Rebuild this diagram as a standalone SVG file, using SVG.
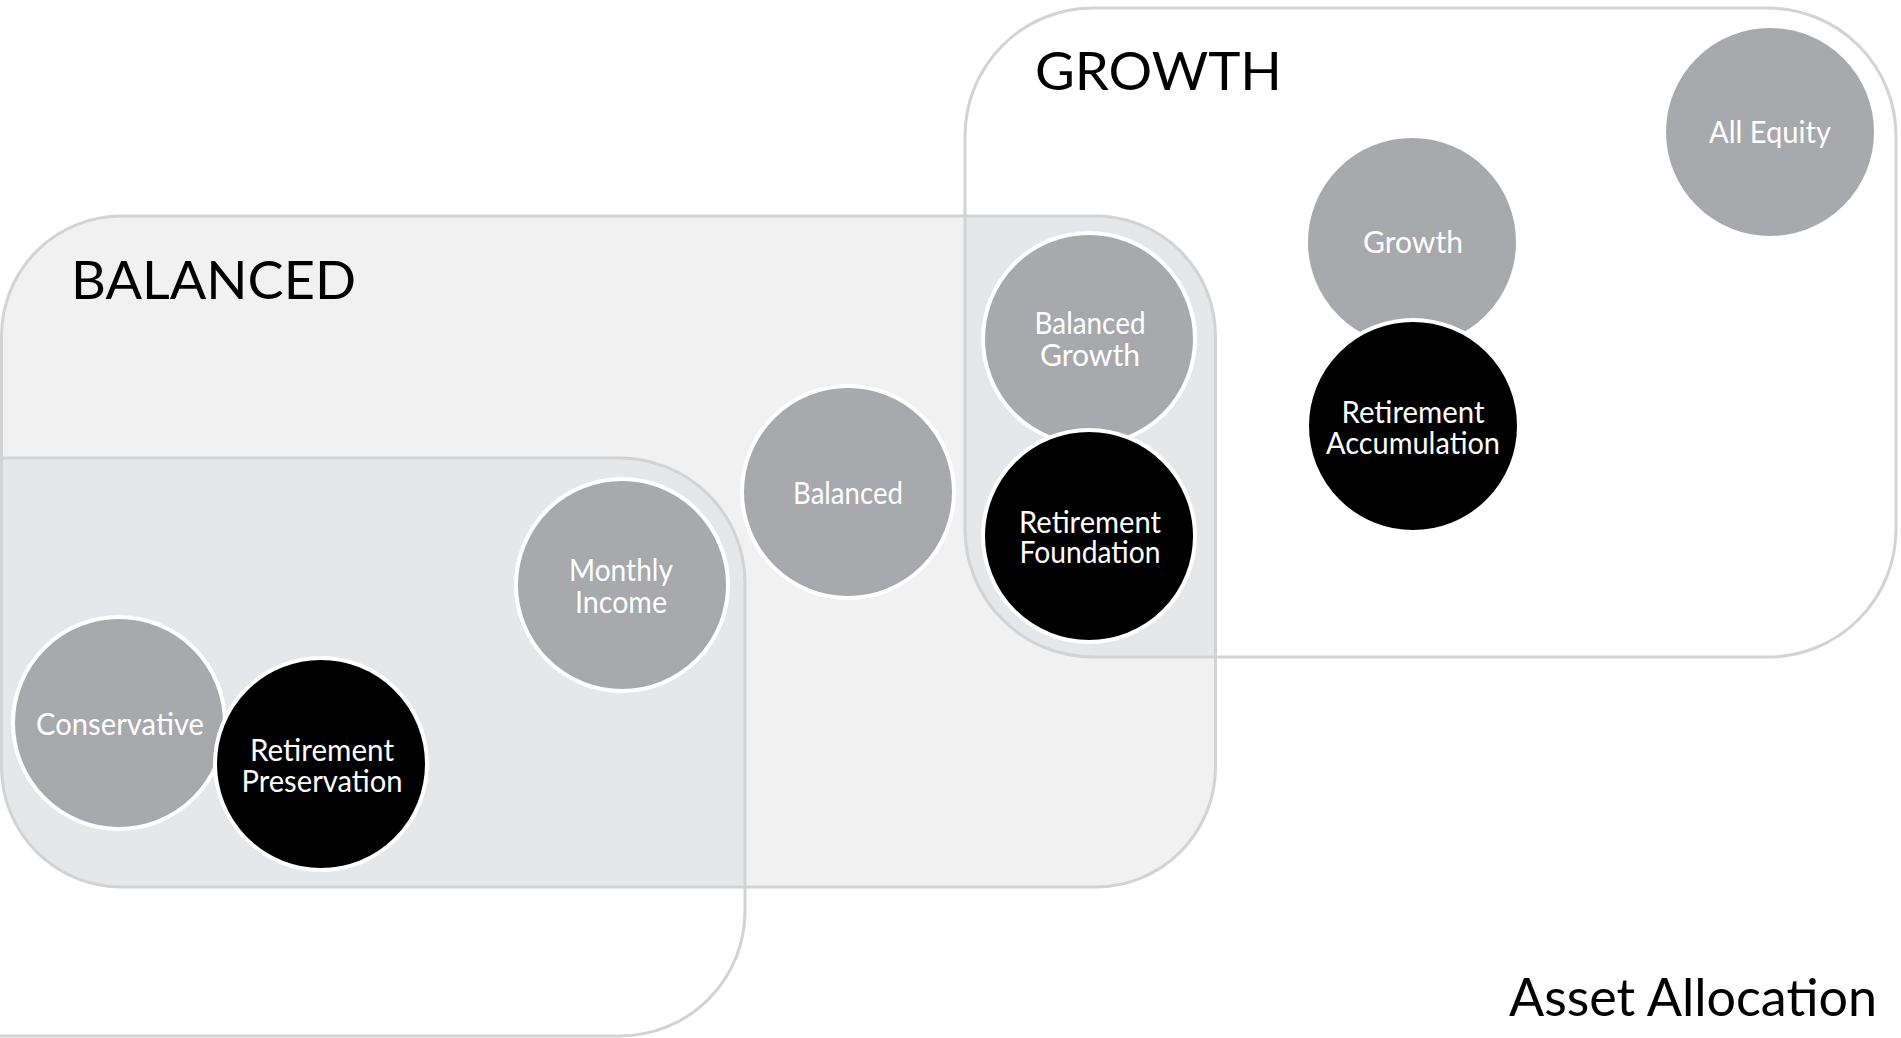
<svg xmlns="http://www.w3.org/2000/svg" width="1901" height="1038" viewBox="0 0 1901 1038">
<style>
.box{fill:none;stroke:#d1d3d4;stroke-width:3}
.ov{fill:#e6e7e8}
.grey{fill:#a7a9ac;stroke:#ffffff;stroke-width:4}
.black{fill:#000000;stroke:#ffffff;stroke-width:4}
.lbl{font-family:Lato,"Liberation Sans",sans-serif;font-size:31px;fill:#ffffff;text-anchor:middle}
.title{font-family:Lato,"Liberation Sans",sans-serif;font-size:52px;fill:#000000}
</style>
<defs>
<clipPath id="clipBal"><rect x="1.5" y="216" width="1214" height="671" rx="120"/></clipPath>
</defs>
<rect width="1901" height="1038" fill="#ffffff"/>
<g id="areas">
<rect x="1.5" y="216" width="1214" height="671" rx="120" fill="#f1f1f2"/>
<g clip-path="url(#clipBal)">
<rect class="ov" x="-300" y="458" width="1045" height="578" rx="125"/>
<rect class="ov" x="965" y="8" width="931" height="649" rx="128"/>
</g>
<rect id="conservative-area" class="box" x="-300" y="458" width="1045" height="578" rx="125"/>
<rect id="balanced-area" class="box" x="1.5" y="216" width="1214" height="671" rx="120"/>
<rect id="growth-area" class="box" x="965" y="8" width="931" height="649" rx="128"/>
<text class="title" x="71" y="299" textLength="285" lengthAdjust="spacingAndGlyphs">BALANCED</text>
<text class="title" x="1035" y="90" textLength="247" lengthAdjust="spacingAndGlyphs">GROWTH</text>
</g>
<g id="connectors"></g>
<g id="n-all-equity"><circle class="grey" cx="1770" cy="132" r="106"/><text class="lbl" x="1770" y="143" textLength="122" lengthAdjust="spacingAndGlyphs">All Equity</text></g>
<g id="n-growth"><circle class="grey" cx="1412" cy="242" r="106"/><text class="lbl" x="1413" y="253" textLength="100" lengthAdjust="spacingAndGlyphs">Growth</text></g>
<g id="n-ret-accumulation"><circle class="black" cx="1413" cy="426" r="106"/><text class="lbl" x="1413" y="423" textLength="143" lengthAdjust="spacingAndGlyphs">Retirement</text><text class="lbl" x="1413" y="454" textLength="174" lengthAdjust="spacingAndGlyphs">Accumulation</text></g>
<g id="n-balanced-growth"><circle class="grey" cx="1089" cy="339" r="106"/><text class="lbl" x="1090" y="334" textLength="111" lengthAdjust="spacingAndGlyphs">Balanced</text><text class="lbl" x="1090" y="366" textLength="100" lengthAdjust="spacingAndGlyphs">Growth</text></g>
<g id="n-ret-foundation"><circle class="black" cx="1089" cy="536" r="106"/><text class="lbl" x="1090" y="533" textLength="142" lengthAdjust="spacingAndGlyphs">Retirement</text><text class="lbl" x="1090" y="563" textLength="141" lengthAdjust="spacingAndGlyphs">Foundation</text></g>
<g id="n-balanced"><circle class="grey" cx="848" cy="492" r="106"/><text class="lbl" x="848" y="504" textLength="110" lengthAdjust="spacingAndGlyphs">Balanced</text></g>
<g id="n-monthly-income"><circle class="grey" cx="622" cy="585" r="106"/><text class="lbl" x="621" y="581" textLength="104" lengthAdjust="spacingAndGlyphs">Monthly</text><text class="lbl" x="621" y="613" textLength="92" lengthAdjust="spacingAndGlyphs">Income</text></g>
<g id="n-conservative"><circle class="grey" cx="119" cy="723" r="106"/><text class="lbl" x="120" y="735" textLength="168" lengthAdjust="spacingAndGlyphs">Conservative</text></g>
<g id="n-ret-preservation"><circle class="black" cx="321" cy="764" r="106"/><text class="lbl" x="322" y="761" textLength="144" lengthAdjust="spacingAndGlyphs">Retirement</text><text class="lbl" x="322" y="792" textLength="161" lengthAdjust="spacingAndGlyphs">Preservation</text></g>
<text id="caption" x="1509" y="1016" font-family="Lato,'Liberation Sans',sans-serif" font-size="52" fill="#000000" textLength="368" lengthAdjust="spacingAndGlyphs">Asset Allocation</text>
</svg>
